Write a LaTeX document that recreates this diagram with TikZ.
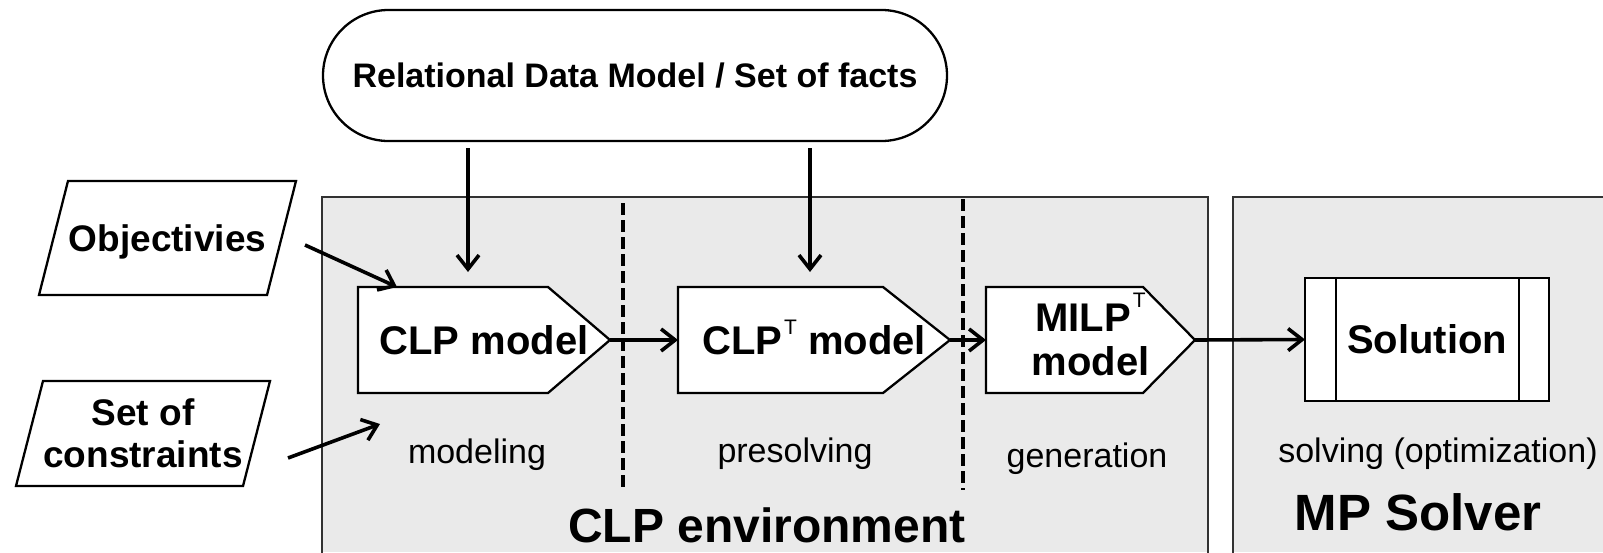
\documentclass[tikz,border=0pt]{standalone}
\usepackage{fontspec}
\setmainfont{Liberation Sans}
\usetikzlibrary{arrows.meta}
\pgfdeclarelayer{bg}
\pgfdeclarelayer{mid}
\pgfsetlayers{bg,mid,main}
\definecolor{panel}{RGB}{234,234,234}
\definecolor{panelline}{RGB}{50,50,50}
\newcommand\setfs[2]{\fontsize{#1}{#2}\selectfont}
\newcommand\supT[1]{\hspace{2pt}\smash{\raisebox{#1}{\normalfont\setfs{21}{21}T}}}

\tikzset{
  shapebox/.style={inner sep=0pt, outer sep=0pt},
  boldlbl/.style={font=\bfseries\setfs{40}{44}},
  outline/.style={draw=black, line width=2.3pt, line join=miter},
  panelbox/.style={draw=panelline, line width=2.3pt},
  divider/.style={draw=black, line width=3.5pt, dash pattern=on 12pt off 5pt},
  arr/.style={draw=black, line width=3.6pt,
    -{Straight Barb[length=14pt, width=22pt, line width=3.6pt]}},
  phase/.style={anchor=base, inner sep=0pt, font=\setfs{34}{40}},
  title/.style={anchor=base, inner sep=0pt, font=\bfseries}
}

\begin{document}
\begin{tikzpicture}[x=1pt, y=-1pt]
\useasboundingbox (0,0) rectangle (1603,552);

% grey panels of the two environments (open at the lower edge)
\begin{pgfonlayer}{bg}
  \fill[panel] (322,197) rectangle (1208,552);
  \draw[panelbox] (322,560) -- (322,197) -- (1208,197) -- (1208,560);
  \fill[panel] (1233,197) rectangle (1603,552);
  \draw[panelbox] (1233,560) -- (1233,197) -- (1610,197);
\end{pgfonlayer}

% phase separators
\draw[divider] (623,203) -- (623,490);
\draw[divider] (963,199) -- (963,490);

% data source
\node[shapebox, draw, line width=2.3pt, rounded corners=65.5pt,
      minimum width=624pt, minimum height=131pt,
      font=\bfseries\setfs{34}{40}, text height=24.5pt, text depth=0pt]
  (rdm) at (635,75.5) {Relational Data Model / Set of facts};

% inputs
\node[shapebox, minimum width=257pt, minimum height=114pt,
      font=\bfseries\setfs{37}{42}, text height=26.5pt, text depth=0pt]
  (obj) at (167.5,238) {Objectivies};
\node[shapebox, minimum width=254pt, minimum height=105pt, align=center,
      font=\bfseries\setfs{37}{42}]
  (con) at (143,433.5) {Set of\\constraints};

% models
\node[shapebox, boldlbl, minimum width=252pt, minimum height=106pt,
      text height=28.6pt, text depth=0pt]
  (clp) at (484,340) {CLP model};
\node[shapebox, boldlbl, minimum width=272pt, minimum height=106pt,
      text height=28.6pt, text depth=0pt]
  (clpt) at (814,340) {CLP\supT{20pt} model};
\node[shapebox, boldlbl, minimum width=209pt, minimum height=106pt, align=center]
  (milp) at (1090.5,340) {MILP\supT{24pt}\\model};

% result
\node[shapebox, outline, fill=white, boldlbl, minimum width=244pt,
      minimum height=123pt, text height=28.6pt, text depth=0pt]
  (sol) at (1427,339.5) {Solution};
\draw[outline] ([xshift=31pt]sol.north west) -- ([xshift=31pt]sol.south west);
\draw[outline] ([xshift=-30pt]sol.north east) -- ([xshift=-30pt]sol.south east);

% outlines of the model and input shapes
\begin{pgfonlayer}{mid}
  \draw[outline, fill=white] (clp.north west) -- ([xshift=-62pt]clp.north east)
    -- (clp.east) -- ([xshift=-62pt]clp.south east) -- (clp.south west) -- cycle;
  \draw[outline, fill=white] (clpt.north west) -- ([xshift=-67pt]clpt.north east)
    -- (clpt.east) -- ([xshift=-67pt]clpt.south east) -- (clpt.south west) -- cycle;
  \draw[outline, fill=white] (milp.north west) -- ([xshift=-52pt]milp.north east)
    -- (milp.east) -- ([xshift=-52pt]milp.south east) -- (milp.south west) -- cycle;
  \draw[outline] ([xshift=29pt]obj.north west) -- (obj.north east)
    -- ([xshift=-29pt]obj.south east) -- (obj.south west) -- cycle;
  \draw[outline] ([xshift=27pt]con.north west) -- (con.north east)
    -- ([xshift=-27pt]con.south east) -- (con.south west) -- cycle;
\end{pgfonlayer}

% phase names
\node[phase] (lmod) at (477,463) {modeling};
\node[phase] (lpre) at (795,462) {presolving};
\node[phase] (lgen) at (1087,467) {generation};
\node[phase] (lsol) at (1438,462) {solving (optimization)};
\node[title, font=\bfseries\setfs{48}{52}] (tclp) at (767,542) {CLP environment};
\node[title, font=\bfseries\setfs{51}{56}] (tmp) at (1418,530) {MP Solver};

% connectors
\coordinate (a1) at (468,0);
\coordinate (a2) at (810,0);
\draw[arr] ([yshift=-7pt]rdm.south -| a1) -- ([yshift=15pt]clp.north -| a1);
\draw[arr] ([yshift=-7pt]rdm.south -| a2) -- ([yshift=15pt]clpt.north -| a2);
\draw[arr] ([shift={(9pt,-7pt)}]obj.east) -- ([xshift=39pt]clp.north west);
\draw[arr] ([shift={(18pt,-24.5pt)}]con.east) -- ([shift={(22pt,-31pt)}]clp.south west);
\draw[arr] (clp.east) -- (clpt.west);
\draw[arr] (clpt.east) -- (milp.west);
\draw[arr] (milp.east) -- (sol.west);
\end{tikzpicture}
\end{document}
